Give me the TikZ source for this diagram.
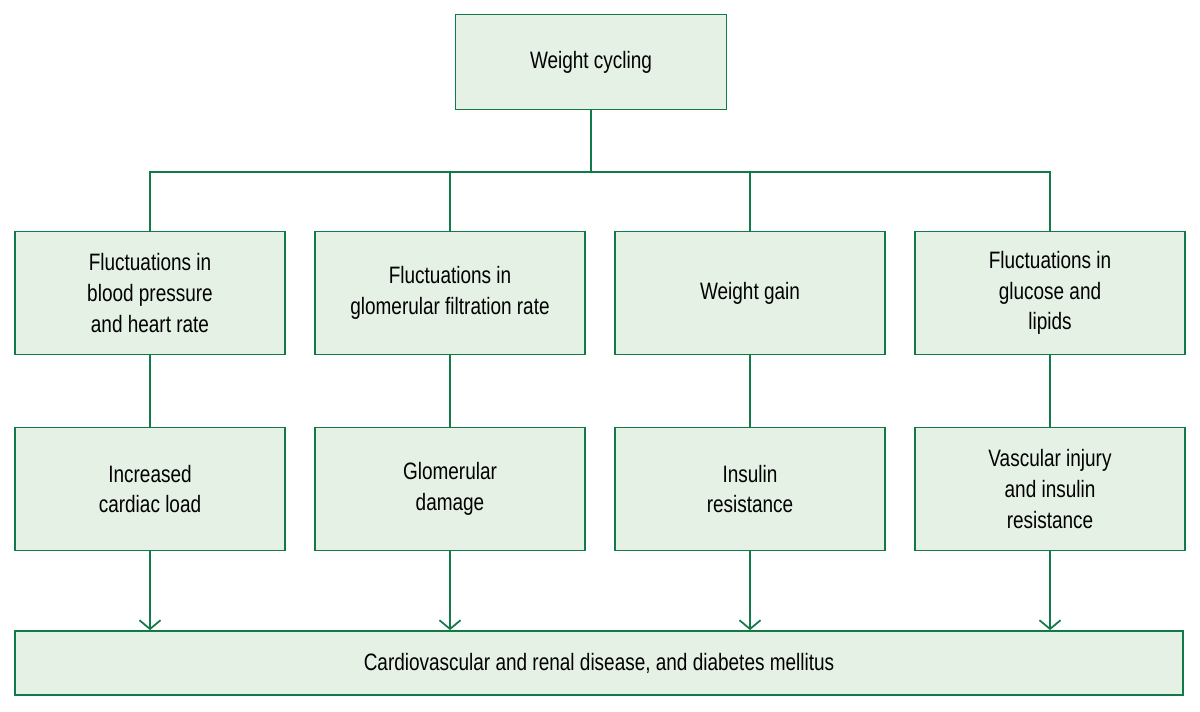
\documentclass[tikz,border=0pt]{standalone}
\usepackage{fontspec}
\setmainfont{Liberation Sans}[FakeStretch=0.8]
\usetikzlibrary{arrows.meta,positioning}
\definecolor{boxfill}{RGB}{229,241,229}
\definecolor{boxline}{RGB}{18,122,72}
\tikzset{>={Straight Barb[length=5pt,width=12pt]}}

\begin{document}
\begin{tikzpicture}[x=0.02cm,y=-0.02cm,
    box/.style={draw=boxline,fill=boxfill,line width=1pt,align=center,
      minimum width=5.4cm,minimum height=2.46cm,inner sep=2pt,
      font=\fontsize{13.5}{17.5}\selectfont},
    link/.style={draw=boxline,line width=1pt}]
      \useasboundingbox (0,0) rectangle (1200,712);
      % top and bottom boxes
      \node[box,minimum width=5.42cm,minimum height=1.9cm] at (591,62) (top) {Weight cycling};
      \node[box,minimum width=23.36cm,minimum height=1.28cm] at (599,663) (end) {Cardiovascular and renal disease, and diabetes mellitus};
      % first row
      \node[box] at (150,293) (bp) {Fluctuations in\\blood pressure\\and heart rate};
      \node[box] at (450,293) (gfr) {Fluctuations in\\glomerular filtration rate};
      \node[box] at (750,293) (gain) {Weight gain};
      \node[box] at (1050,293) (glu) {Fluctuations in\\glucose and\\lipids};
      % second row
      \node[box] at (150,489) (load) {Increased\\cardiac load};
      \node[box] at (450,489) (dmg) {Glomerular\\damage};
      \node[box] at (750,489) (ins) {Insulin\\resistance};
      \node[box] at (1050,489) (vasc) {Vascular injury\\and insulin\\resistance};
      \coordinate (split) at (591,172);
      \draw[link] (top.south) -- (split);
      \draw[link] (bp.north) |- (split) -| (glu.north);
      \draw[link] (gfr.north) -- (gfr.north |- split);
      \draw[link] (gain.north) -- (gain.north |- split);
      \foreach \a/\b in {bp/load,gfr/dmg,gain/ins,glu/vasc}
        \draw[link] (\a) -- (\b);
      \foreach \a in {load,dmg,ins,vasc}
        \draw[link,->] (\a.south) -- (\a.south |- end.north);
\end{tikzpicture}
\end{document}
